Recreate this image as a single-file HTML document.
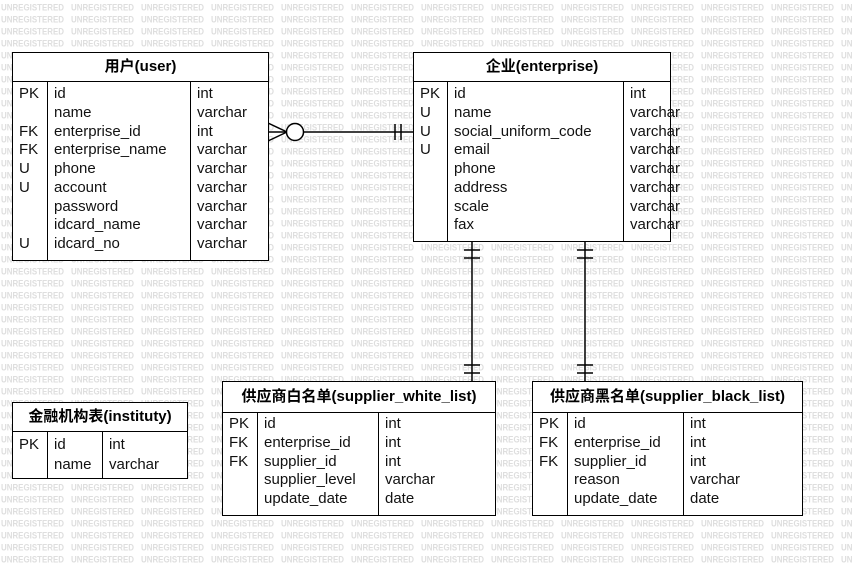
<!DOCTYPE html>
<html><head><meta charset="utf-8"><style>
body{margin:0;width:852px;height:565px;position:relative;overflow:hidden;background:#fff;font-family:"Liberation Sans","Noto Sans CJK SC",sans-serif;}
.t{position:absolute;background:#fff;border:1.5px solid #000;box-sizing:border-box;}
.h{position:absolute;left:0;right:0;top:0;border-bottom:1.5px solid #000;font-weight:bold;font-size:15px;text-align:center;box-sizing:border-box;}
.c{position:absolute;bottom:0;font-size:15px;line-height:18.75px;color:#111;padding-left:6px;box-sizing:border-box;white-space:pre;}
.c.b{border-left:1.5px solid #000;}
</style></head><body>
<svg width="852" height="565" style="position:absolute;left:0;top:0">
<defs><pattern id="wm" width="70" height="12" patternUnits="userSpaceOnUse" x="1" y="1">
<text x="0" y="9.5" font-family="Liberation Sans" font-weight="bold" font-size="9" fill="#dedede" textLength="63" lengthAdjust="spacingAndGlyphs">UNREGISTERED</text>
</pattern></defs>
<rect width="852" height="565" fill="url(#wm)"/>
<g stroke="#000" stroke-width="1.5" fill="none">
<line x1="268" y1="132" x2="413" y2="132"/>
<line x1="268" y1="123" x2="287" y2="132"/><line x1="268" y1="141" x2="287" y2="132"/>
<circle cx="295" cy="132" r="8.5" fill="#fff"/>
<line x1="395" y1="124" x2="395" y2="140"/><line x1="401" y1="124" x2="401" y2="140"/>
<line x1="472" y1="241" x2="472" y2="382"/>
<line x1="464" y1="250" x2="480" y2="250"/><line x1="464" y1="258" x2="480" y2="258"/>
<line x1="464" y1="365" x2="480" y2="365"/><line x1="464" y1="373" x2="480" y2="373"/>
<line x1="585" y1="241" x2="585" y2="382"/>
<line x1="577" y1="250" x2="593" y2="250"/><line x1="577" y1="258" x2="593" y2="258"/>
<line x1="577" y1="365" x2="593" y2="365"/><line x1="577" y1="373" x2="593" y2="373"/>
</g></svg>

<div class="t" style="left:12px;top:52px;width:257px;height:209px">
<div class="h" style="height:29px;line-height:27px">用户(user)</div>
<div class="c" style="left:0;width:35px;top:28px;padding-top:4px">PK

FK
FK
U
U


U</div>
<div class="c b" style="left:34px;width:144px;top:28px;padding-top:4px">id
name
enterprise_id
enterprise_name
phone
account
password
idcard_name
idcard_no</div>
<div class="c b" style="left:177px;right:0;top:28px;padding-top:4px">int
varchar
int
varchar
varchar
varchar
varchar
varchar
varchar</div>
</div>

<div class="t" style="left:413px;top:52px;width:258px;height:190px">
<div class="h" style="height:29px;line-height:27px">企业(enterprise)</div>
<div class="c" style="left:0;width:35px;top:28px;padding-top:4px">PK
U
U
U</div>
<div class="c b" style="left:33px;width:177px;top:28px;padding-top:4px">id
name
social_uniform_code
email
phone
address
scale
fax</div>
<div class="c b" style="left:209px;right:0;top:28px;padding-top:4px">int
varchar
varchar
varchar
varchar
varchar
varchar
varchar</div>
</div>

<div class="t" style="left:12px;top:402px;width:176px;height:77px">
<div class="h" style="height:29px;line-height:27px">金融机构表(instituty)</div>
<div class="c" style="left:0;width:35px;top:28px;padding-top:4px;line-height:19.5px">PK</div>
<div class="c b" style="left:34px;width:56px;top:28px;padding-top:4px;line-height:19.5px">id
name</div>
<div class="c b" style="left:89px;right:0;top:28px;padding-top:4px;line-height:19.5px">int
varchar</div>
</div>

<div class="t" style="left:222px;top:381px;width:274px;height:135px">
<div class="h" style="height:31px;line-height:29px">供应商白名单(supplier_white_list)</div>
<div class="c" style="left:0;width:35px;top:30px;padding-top:3px">PK
FK
FK</div>
<div class="c b" style="left:34px;width:122px;top:30px;padding-top:3px">id
enterprise_id
supplier_id
supplier_level
update_date</div>
<div class="c b" style="left:155px;right:0;top:30px;padding-top:3px">int
int
int
varchar
date</div>
</div>

<div class="t" style="left:532px;top:381px;width:271px;height:135px">
<div class="h" style="height:31px;line-height:29px">供应商黑名单(supplier_black_list)</div>
<div class="c" style="left:0;width:35px;top:30px;padding-top:3px">PK
FK
FK</div>
<div class="c b" style="left:34px;width:117px;top:30px;padding-top:3px">id
enterprise_id
supplier_id
reason
update_date</div>
<div class="c b" style="left:150px;right:0;top:30px;padding-top:3px">int
int
int
varchar
date</div>
</div>
</body></html>
